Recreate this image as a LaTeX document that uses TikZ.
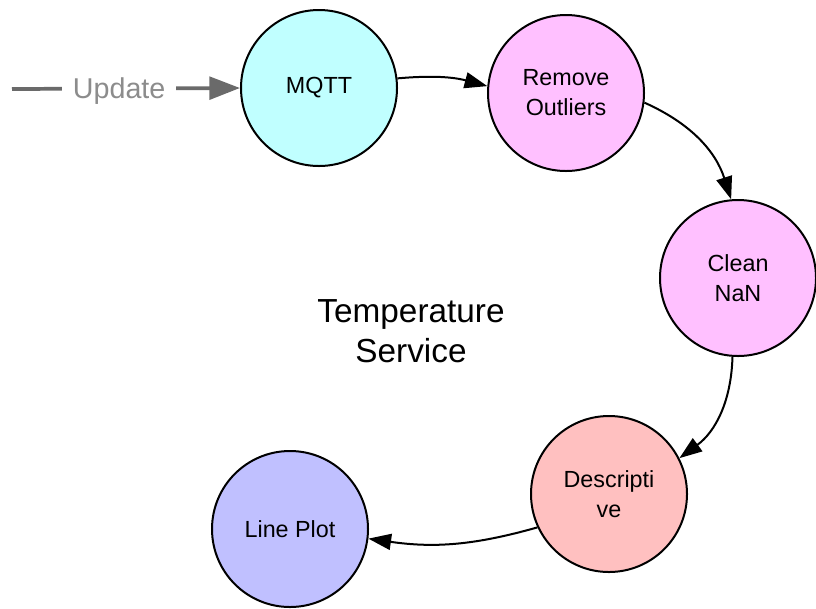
\documentclass[tikz,border=0pt]{standalone}
\usepackage{fontspec}
\setmainfont{Liberation Sans}
\usetikzlibrary{arrows.meta, positioning}

\definecolor{mqttcyan}{HTML}{C0FFFF}
\definecolor{cleanpink}{HTML}{FFC0FF}
\definecolor{descrose}{HTML}{FFC0C0}
\definecolor{plotblue}{HTML}{C0C0FF}
\definecolor{feedgray}{HTML}{6A6A6A}
\definecolor{labelgray}{HTML}{8C8C8C}

\tikzset{
  stage/.style={circle, draw, line width=1.5pt, minimum size=117pt, inner sep=0pt,
    align=center, font=\fontsize{17.5}{22.5}\selectfont},
  flow/.style={-{Triangle[length=17pt, width=12pt]}, line width=1.5pt},
  feed/.style={-{Triangle[length=23pt, width=17pt]}, line width=2.8pt, draw=feedgray},
}

\begin{document}
\begin{tikzpicture}[x=0.75pt, y=-0.75pt]
        \useasboundingbox (0,0) rectangle (816,608);
        \node[stage, fill=mqttcyan] (mqtt) at (319,88) {MQTT};
        \node[stage, fill=cleanpink] (out) at (566,93) {Remove\\Outliers};
        \node[stage, fill=cleanpink] (nan) at (738,278) {Clean\\NaN};
        \node[stage, fill=descrose] (desc) at (609,494) {Descripti\\ve};
        \node[stage, fill=plotblue] (plot) at (290,529) {Line Plot};
        \node[align=center, font=\fontsize{25}{30}\selectfont] (title) at (411,331) {Temperature\\Service};
        \coordinate (upd) at (12,89);
        \draw[feed] (upd) to node[pos=0.47, fill=white, inner xsep=8pt, text=labelgray, yshift=-2pt,
          font=\fontsize{21.5}{26}\selectfont] {Update} (mqtt.west);
        \draw[flow] (mqtt.7) to[bend left=10] (out.175);
        \draw[flow] (out.-7) to[bend left=24] (nan.95);
        \draw[flow] (nan.266) to[bend left=26] (desc.27);
        \draw[flow] (desc.205) to[bend left=12] (plot.353);
    \end{tikzpicture}
\end{document}
